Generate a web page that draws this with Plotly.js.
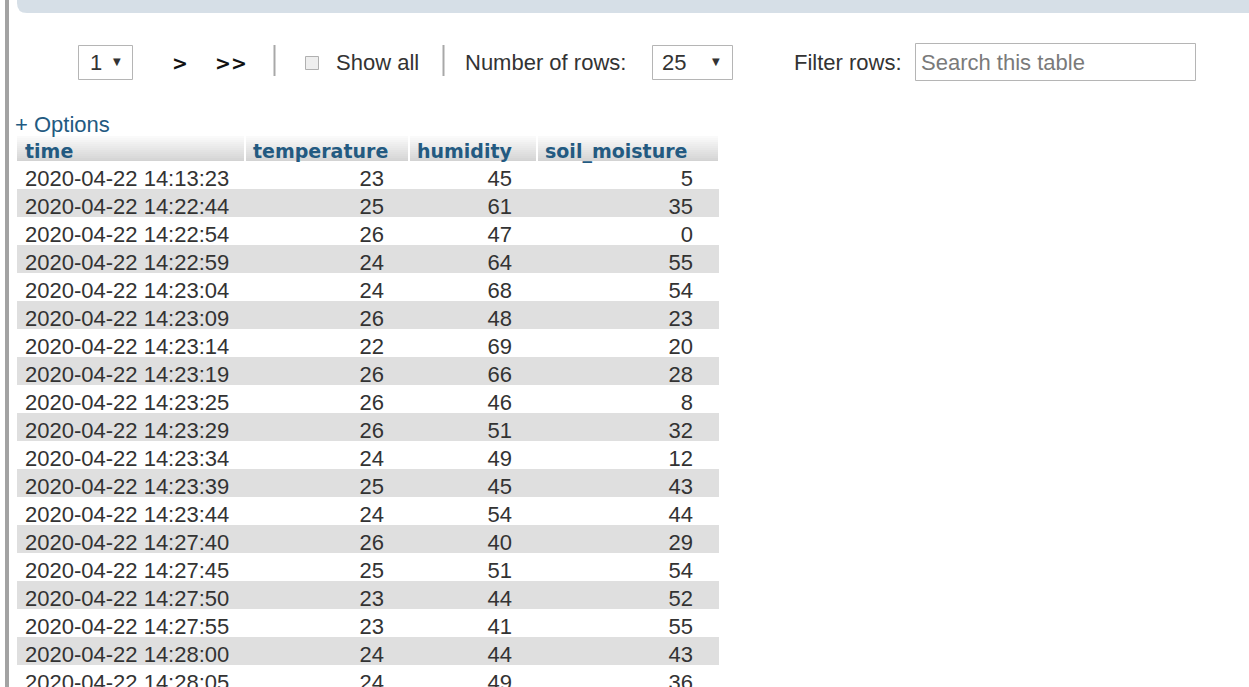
<!DOCTYPE html>
<html>
<head>
<meta charset="utf-8">
<script src="https://cdn.plot.ly/plotly-3.0.1.min.js"></script>
<style>
  html, body { margin: 0; padding: 0; background: #ffffff; overflow: hidden; }
  #chart { width: 1249px; height: 687px; }
  .scrollbar-kit { display: none; }
</style>
</head>
<body>
<div id="chart"></div>
<script>
// ---------------- data ----------------
const columns = ['time', 'temperature', 'humidity', 'soil_moisture'];
const time = [
  '2020-04-22 14:13:23', '2020-04-22 14:22:44', '2020-04-22 14:22:54', '2020-04-22 14:22:59',
  '2020-04-22 14:23:04', '2020-04-22 14:23:09', '2020-04-22 14:23:14', '2020-04-22 14:23:19',
  '2020-04-22 14:23:25', '2020-04-22 14:23:29', '2020-04-22 14:23:34', '2020-04-22 14:23:39',
  '2020-04-22 14:23:44', '2020-04-22 14:27:40', '2020-04-22 14:27:45', '2020-04-22 14:27:50',
  '2020-04-22 14:27:55', '2020-04-22 14:28:00', '2020-04-22 14:28:05'
];
const temperature   = [23, 25, 26, 24, 24, 26, 22, 26, 26, 26, 24, 25, 24, 26, 25, 23, 23, 24, 24];
const humidity      = [45, 61, 47, 64, 68, 48, 69, 66, 46, 51, 49, 45, 54, 40, 51, 44, 41, 44, 49];
const soil_moisture = [5, 35, 0, 55, 54, 23, 20, 28, 8, 32, 12, 43, 44, 29, 54, 52, 55, 43, 36];

// toolbar texts
const pageValue = '1';
const rowsValue = '25';
const navLabels = ['>', '>>'];
const showAllLabel = 'Show all';
const rowsLabel = 'Number of rows:';
const filterLabel = 'Filter rows:';
const searchPlaceholder = 'Search this table';
const optionsLabel = '+ Options';

// ---------------- helpers ----------------
const W = 1249, H = 687;
const X = px => px / W;
const Y = py => 1 - py / H;

const DATA_FONT = 'Liberation Sans, Arial, sans-serif';
const HEAD_FONT = 'DejaVu Sans, Verdana, sans-serif';
const TEXT_COLOR = '#333333';
const BLUE = '#235a81';
const FS = 22;

const padR = v => String(v) + '\u2002\u00a0';

const rowFill = time.map((_, i) => (i % 2 === 1 ? '#dfdfdf' : '#ffffff'));

// table geometry (pixels)
const tableLeft = 17, tableRight = 718;
const colWidths = [228, 164, 128, 181];
const headTop = 136, headerH = 28, rowH = 28;
const domainTop = 133; // the table header renders ~31px tall; rows start at 164

// ---------------- table ----------------
const table = {
  type: 'table',
  domain: { x: [X(tableLeft), X(tableRight)], y: [0, Y(domainTop)] },
  columnwidth: colWidths,
  header: {
    values: columns.map(() => ''),
    align: 'left',
    height: headerH,
    fill: { color: 'rgba(0,0,0,0)' },
    line: { color: 'rgba(255,255,255,0)', width: 0 },
    font: { family: HEAD_FONT, size: 1, color: BLUE }
  },
  cells: {
    values: [time, temperature.map(padR), humidity.map(padR), soil_moisture.map(padR)],
    align: ['left', 'right', 'right', 'right'],
    height: rowH,
    fill: { color: [rowFill, rowFill, rowFill, rowFill] },
    line: { color: [rowFill, rowFill, rowFill, rowFill], width: 1 },
    font: { family: DATA_FONT, size: FS, color: TEXT_COLOR }
  }
};

// ---------------- shapes ----------------
const shapes = [];
// top bar with rounded lower-left corner
shapes.push({
  type: 'path', xref: 'paper', yref: 'paper', layer: 'below',
  path: `M ${X(17)},${Y(0)} L 1,${Y(0)} L 1,${Y(13)} L ${X(27)},${Y(13)} Q ${X(17)},${Y(13)} ${X(17)},${Y(3)} Z`,
  fillcolor: '#d6dfe7', line: { width: 0 }
});
// left vertical bar
shapes.push({ type: 'rect', xref: 'paper', yref: 'paper', layer: 'below',
  x0: X(5), x1: X(9), y0: 0, y1: 1, fillcolor: '#a3a3a3', line: { width: 0 } });
// select boxes and input
function box(x0, x1, y0, y1, fill, lc) {
  shapes.push({ type: 'rect', xref: 'paper', yref: 'paper', layer: 'below',
    x0: X(x0), x1: X(x1), y0: Y(y1), y1: Y(y0), fillcolor: fill, line: { color: lc, width: 1 } });
}
box(78.5, 132.5, 45.5, 79.5, '#ffffff', '#b5b5b5');
box(652.5, 732.5, 45.5, 79.5, '#ffffff', '#b5b5b5');
box(915.5, 1195.5, 43.5, 80.5, '#ffffff', '#b5b5b5');
box(305.5, 318.5, 56.5, 69.5, '#eeeeee', '#b0b0b0');
// separators
[274.5, 443.5].forEach(x => shapes.push({ type: 'line', xref: 'paper', yref: 'paper', layer: 'below',
  x0: X(x), x1: X(x), y0: Y(45), y1: Y(76), line: { color: '#a8a8a8', width: 2 } }));
// header gradient (under the transparent table header)
const steps = 14;
for (let i = 0; i < steps; i++) {
  const t = i / (steps - 1);
  const c = Math.round(250 - t * (250 - 208));
  shapes.push({ type: 'rect', xref: 'paper', yref: 'paper', layer: 'below',
    x0: X(tableLeft), x1: X(tableRight),
    y0: Y(headTop + (i + 1) * headerH / steps), y1: Y(headTop + i * headerH / steps),
    fillcolor: `rgb(${c},${c},${c})`, line: { width: 0 } });
}
// white separators between header cells
let sx = tableLeft;
colWidths.slice(0, -1).forEach(w => {
  sx += w;
  shapes.push({ type: 'line', xref: 'paper', yref: 'paper', layer: 'below',
    x0: X(sx), x1: X(sx), y0: Y(headTop + headerH), y1: Y(headTop), line: { color: '#ffffff', width: 2 } });
});

// ---------------- annotations ----------------
const ann = [];
function txt(text, px, py, size, color, family, anchor) {
  ann.push({ xref: 'paper', yref: 'paper', x: X(px), y: Y(py), text: text, showarrow: false,
    xanchor: anchor || 'left', yanchor: 'middle', borderpad: 0,
    font: { family: family || DATA_FONT, size: size, color: color } });
}
// column headers
let cx = tableLeft;
columns.forEach((c, i) => {
  txt('<b>' + c + '</b>', cx + 7, headTop + headerH / 2 + 1, 19, BLUE, HEAD_FONT);
  cx += colWidths[i];
});
txt(pageValue, 89, 62, FS, TEXT_COLOR);
txt('\u25BC', 117, 61, 10, '#333333', 'DejaVu Sans', 'center');
txt('<b>' + navLabels[0] + '</b>', 171, 63, 19, '#111111', HEAD_FONT);
txt('<b>' + navLabels[1] + '</b>', 214, 63, 19, '#111111', HEAD_FONT);
txt(showAllLabel, 335, 62, FS, TEXT_COLOR);
txt(rowsLabel, 464, 62, FS, TEXT_COLOR);
txt(rowsValue, 661, 62, FS, TEXT_COLOR);
txt('\u25BC', 716, 61, 10, '#333333', 'DejaVu Sans', 'center');
txt(filterLabel, 793, 62, FS, TEXT_COLOR);
txt(searchPlaceholder, 920, 62, FS, '#7a7a7a');
txt(optionsLabel, 14, 124, FS, BLUE);

const layout = {
  width: W, height: H,
  margin: { l: 0, r: 0, t: 0, b: 0 },
  paper_bgcolor: '#ffffff',
  showlegend: false,
  shapes: shapes,
  annotations: ann
};

Plotly.newPlot('chart', [table], layout, { staticPlot: true, displayModeBar: false });
</script>
</body>
</html>
